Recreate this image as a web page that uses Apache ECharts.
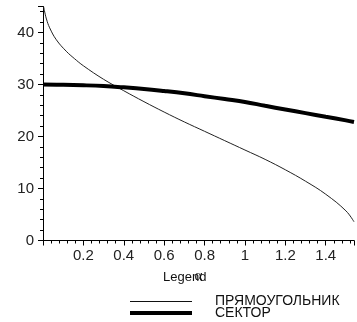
<!DOCTYPE html>
<html>
<head>
<meta charset="utf-8">
<script src="https://cdn.jsdelivr.net/npm/echarts@6/dist/echarts.min.js"></script>
<style>html,body{margin:0;padding:0;background:#fff;}#c{width:357px;height:322px;}</style>
</head>
<body>
<div id="c"></div>
<script>
var alphaRect = [0.003, 0.007, 0.017, 0.033, 0.066, 0.115, 0.155, 0.2, 0.3, 0.4, 0.5, 0.6, 0.7, 0.8, 0.9, 1.0, 1.1, 1.2, 1.3, 1.4, 1.5, 1.54];
var rectValues = [45.0, 44.2, 42.6, 40.9, 38.6, 36.4, 35.0, 33.6, 31.0, 28.8, 26.7, 24.7, 22.8, 21.0, 19.2, 17.4, 15.6, 13.6, 11.4, 8.9, 5.7, 3.6];
var alphaSector = [0, 0.1, 0.2, 0.3, 0.4, 0.5, 0.6, 0.7, 0.8, 0.9, 1.0, 1.1, 1.2, 1.3, 1.4, 1.5, 1.54];
var sectorValues = [30.0, 29.95, 29.85, 29.7, 29.45, 29.15, 28.75, 28.3, 27.75, 27.2, 26.65, 25.9, 25.2, 24.5, 23.8, 23.1, 22.8];
var yTicks = [0, 10, 20, 30, 40];
var xTicks = [0.2, 0.4, 0.6, 0.8, 1, 1.2, 1.4];
var seriesNames = ['ПРЯМОУГОЛЬНИК', 'СЕКТОР'];

function pair(xs, ys) { return xs.map(function (x, i) { return [x, ys[i]]; }); }
function near(v, list) { for (var i = 0; i < list.length; i++) { if (Math.abs(v - list[i]) < 1e-6) return list[i]; } return null; }

var chart = echarts.init(document.getElementById('c'), null, { renderer: 'canvas' });
var font = 'Liberation Sans';
function legendOf(name, top, h) {
  return {
    data: [name], left: 130, top: top, padding: 0, icon: 'rect',
    itemWidth: 62, itemHeight: h, itemGap: 0,
    textStyle: { fontFamily: font, fontSize: 14, color: '#111', lineHeight: 14, padding: [0, 0, 5, 18] }
  };
}
chart.setOption({
  backgroundColor: '#fff',
  animation: false,
  title: {
    text: 'Legend', left: 158, top: 266,
    textStyle: { fontFamily: font, fontSize: 13, fontWeight: 'normal', color: '#111' }
  },
  legend: [legendOf(seriesNames[0], 292, 1), legendOf(seriesNames[1], 303.5, 4)],
  grid: { left: 43, right: 0, top: 6.5, bottom: 81.5, containLabel: false },
  xAxis: {
    type: 'value', min: 0, max: 1.54, interval: 0.2,
    name: 'α', nameLocation: 'middle', nameGap: 28,
    nameTextStyle: { fontFamily: 'Liberation Serif', fontSize: 15, color: '#111' },
    axisLine: { onZero: false, lineStyle: { color: '#000', width: 1 } },
    axisTick: { show: true, inside: false, length: 5, lineStyle: { color: '#000' } },
    minorTick: { show: true, splitNumber: 5, length: 3, lineStyle: { color: '#000' } },
    splitLine: { show: false },
    axisLabel: {
      margin: 8, fontFamily: font, fontSize: 15, color: '#222',
      formatter: function (v) { var t = near(v, xTicks); return t === null ? '' : String(t); }
    }
  },
  yAxis: {
    type: 'value', min: 0, max: 45, interval: 10,
    axisLine: { show: true, onZero: false, lineStyle: { color: '#000', width: 1 } },
    axisTick: { show: true, inside: false, length: 5, lineStyle: { color: '#000' } },
    minorTick: { show: true, splitNumber: 5, length: 3, lineStyle: { color: '#000' } },
    splitLine: { show: false },
    axisLabel: {
      margin: 9, fontFamily: font, fontSize: 15, color: '#222',
      formatter: function (v) { var t = near(v, yTicks); return t === null ? '' : String(t); }
    }
  },
  series: [
    {
      name: seriesNames[0], type: 'line', smooth: 0.4, symbol: 'none',
      data: pair(alphaRect, rectValues),
      lineStyle: { color: '#222', width: 1 }, itemStyle: { color: '#111' }
    },
    {
      name: seriesNames[1], type: 'line', smooth: 0.4, symbol: 'none',
      data: pair(alphaSector, sectorValues),
      lineStyle: { color: '#000', width: 4 }, itemStyle: { color: '#000' }
    }
  ]
});
</script>
</body>
</html>
